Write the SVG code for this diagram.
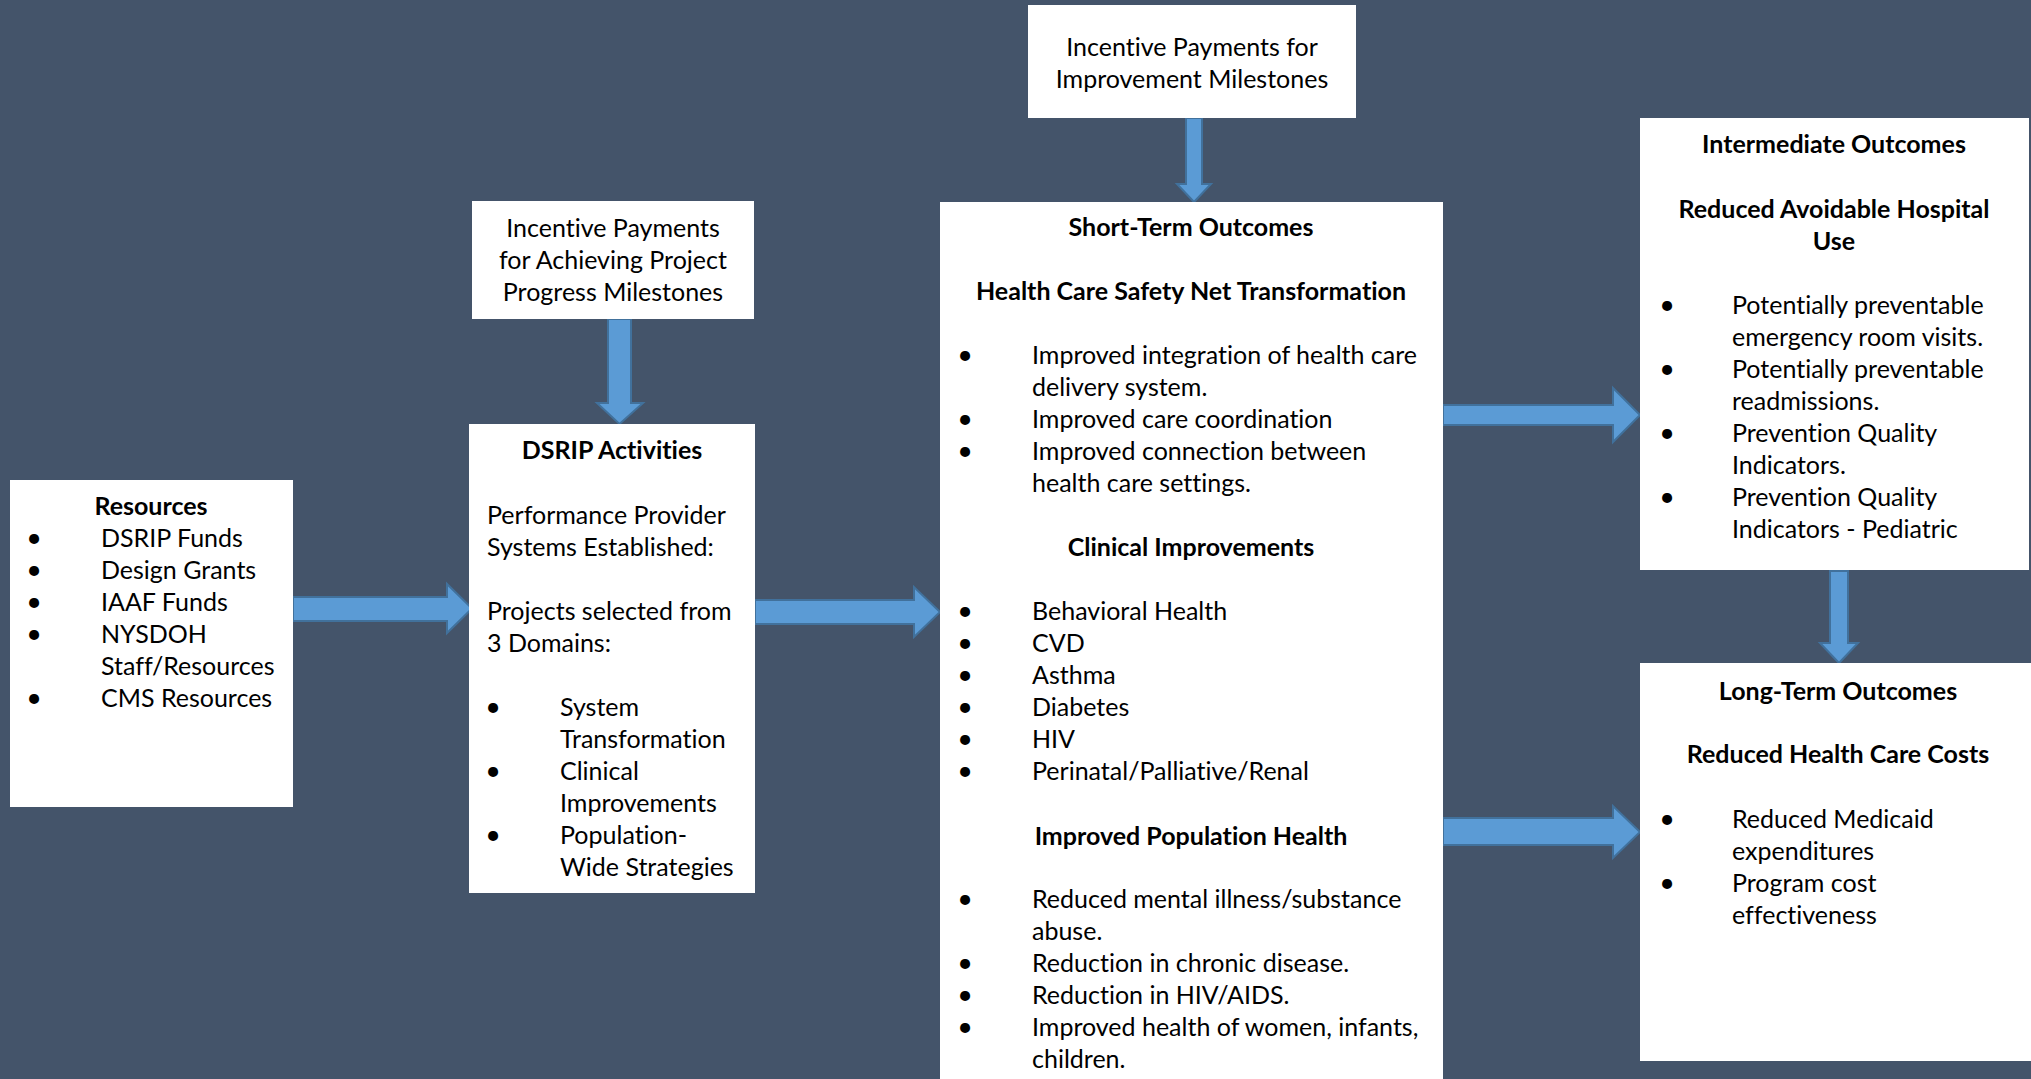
<svg xmlns="http://www.w3.org/2000/svg" width="2031" height="1079" viewBox="0 0 2031 1079">
  <style>
    .bg { fill: #44546A; }
    .box { fill: #FFFFFF; }
    .t { font-family: Lato, "Liberation Sans", sans-serif; font-size: 25px; fill: #000000; font-variant-ligatures: none; font-feature-settings: "liga" 0, "clig" 0; }
    .h { font-weight: bold; text-anchor: middle; }
    .c { text-anchor: middle; }
    .b { text-anchor: middle; font-size: 27px; }
    .arrow { fill: #5B9BD5; stroke: #41719C; stroke-width: 2; stroke-linejoin: miter; }
  </style>

  <rect class="bg" x="0" y="0" width="2031" height="1079"/>

  <!-- connectors: block arrows -->
  <g id="connectors">
    <path class="arrow" d="M293,597 H447 V584 L472,608.5 L447,633 V621 H293 Z"/>
    <path class="arrow" d="M755,600 H914 V587 L940,612 L914,637 V624 H755 Z"/>
    <path class="arrow" d="M1443,405 H1613 V388 L1640,415 L1613,442 V425 H1443 Z"/>
    <path class="arrow" d="M1443,818 H1613 V806 L1640,832 L1613,858 V845 H1443 Z"/>
    <path class="arrow" d="M608,319 V403 H597 L619.5,424 L643,403 H631 V319 Z"/>
    <path class="arrow" d="M1186,118 V184 H1177 L1194,202 L1211,184 H1202 V118 Z"/>
    <path class="arrow" d="M1830,571 V643 H1820 L1839,663 L1858,643 H1848 V571 Z"/>
  </g>

  <!-- resources -->
  <g id="resources">
    <rect class="box" x="10" y="480" width="283" height="327"/>
    <text class="t h" x="151" y="515">Resources</text>
    <text class="t b" x="34" y="547">•</text><text class="t" x="101" y="547">DSRIP Funds</text>
    <text class="t b" x="34" y="579">•</text><text class="t" x="101" y="579">Design Grants</text>
    <text class="t b" x="34" y="611">•</text><text class="t" x="101" y="611">IAAF Funds</text>
    <text class="t b" x="34" y="643">•</text><text class="t" x="101" y="643">NYSDOH</text>
    <text class="t" x="101" y="675">Staff/Resources</text>
    <text class="t b" x="34" y="707">•</text><text class="t" x="101" y="707">CMS Resources</text>
  </g>

  <!-- progress milestone payments -->
  <g id="progress-payments">
    <rect class="box" x="472" y="201" width="282" height="118"/>
    <text class="t c" x="613" y="237">Incentive Payments</text>
    <text class="t c" x="613" y="269">for Achieving Project</text>
    <text class="t c" x="613" y="301">Progress Milestones</text>
  </g>

  <!-- DSRIP activities -->
  <g id="dsrip-activities">
    <rect class="box" x="469" y="424" width="286" height="469"/>
    <text class="t h" x="612" y="459">DSRIP Activities</text>
    <text class="t" x="487" y="524">Performance Provider</text>
    <text class="t" x="487" y="556">Systems Established:</text>
    <text class="t" x="487" y="620">Projects selected from</text>
    <text class="t" x="487" y="652">3 Domains:</text>
    <text class="t b" x="493" y="716">•</text><text class="t" x="560" y="716">System</text>
    <text class="t" x="560" y="748">Transformation</text>
    <text class="t b" x="493" y="780">•</text><text class="t" x="560" y="780">Clinical</text>
    <text class="t" x="560" y="812">Improvements</text>
    <text class="t b" x="493" y="844">•</text><text class="t" x="560" y="844">Population-</text>
    <text class="t" x="560" y="876">Wide Strategies</text>
  </g>

  <!-- improvement milestone payments -->
  <g id="improvement-payments">
    <rect class="box" x="1028" y="5" width="328" height="113"/>
    <text class="t c" x="1192" y="56">Incentive Payments for</text>
    <text class="t c" x="1192" y="88">Improvement Milestones</text>
  </g>

  <!-- short-term outcomes -->
  <g id="short-term-outcomes">
    <rect class="box" x="940" y="202" width="503" height="890"/>
    <text class="t h" x="1191" y="236">Short-Term Outcomes</text>
    <text class="t h" x="1191" y="300">Health Care Safety Net Transformation</text>
    <text class="t b" x="965" y="364">•</text><text class="t" x="1032" y="364">Improved integration of health care</text>
    <text class="t" x="1032" y="396">delivery system.</text>
    <text class="t b" x="965" y="428">•</text><text class="t" x="1032" y="428">Improved care coordination</text>
    <text class="t b" x="965" y="460">•</text><text class="t" x="1032" y="460">Improved connection between</text>
    <text class="t" x="1032" y="492">health care settings.</text>
    <text class="t h" x="1191" y="556">Clinical Improvements</text>
    <text class="t b" x="965" y="620">•</text><text class="t" x="1032" y="620">Behavioral Health</text>
    <text class="t b" x="965" y="652">•</text><text class="t" x="1032" y="652">CVD</text>
    <text class="t b" x="965" y="684">•</text><text class="t" x="1032" y="684">Asthma</text>
    <text class="t b" x="965" y="716">•</text><text class="t" x="1032" y="716">Diabetes</text>
    <text class="t b" x="965" y="748">•</text><text class="t" x="1032" y="748">HIV</text>
    <text class="t b" x="965" y="780">•</text><text class="t" x="1032" y="780">Perinatal/Palliative/Renal</text>
    <text class="t h" x="1191" y="845">Improved Population Health</text>
    <text class="t b" x="965" y="908">•</text><text class="t" x="1032" y="908">Reduced mental illness/substance</text>
    <text class="t" x="1032" y="940">abuse.</text>
    <text class="t b" x="965" y="972">•</text><text class="t" x="1032" y="972">Reduction in chronic disease.</text>
    <text class="t b" x="965" y="1004">•</text><text class="t" x="1032" y="1004">Reduction in HIV/AIDS.</text>
    <text class="t b" x="965" y="1036">•</text><text class="t" x="1032" y="1036">Improved health of women, infants,</text>
    <text class="t" x="1032" y="1068">children.</text>
  </g>

  <!-- intermediate outcomes -->
  <g id="intermediate-outcomes">
    <rect class="box" x="1640" y="118" width="389" height="452"/>
    <text class="t h" x="1834" y="153">Intermediate Outcomes</text>
    <text class="t h" x="1834" y="218">Reduced Avoidable Hospital</text>
    <text class="t h" x="1834" y="250">Use</text>
    <text class="t b" x="1667" y="314">•</text><text class="t" x="1732" y="314">Potentially preventable</text>
    <text class="t" x="1732" y="346">emergency room visits.</text>
    <text class="t b" x="1667" y="378">•</text><text class="t" x="1732" y="378">Potentially preventable</text>
    <text class="t" x="1732" y="410">readmissions.</text>
    <text class="t b" x="1667" y="442">•</text><text class="t" x="1732" y="442">Prevention Quality</text>
    <text class="t" x="1732" y="474">Indicators.</text>
    <text class="t b" x="1667" y="506">•</text><text class="t" x="1732" y="506">Prevention Quality</text>
    <text class="t" x="1732" y="538">Indicators - Pediatric</text>
  </g>

  <!-- long-term outcomes -->
  <g id="long-term-outcomes">
    <rect class="box" x="1640" y="663" width="400" height="398"/>
    <text class="t h" x="1838" y="700">Long-Term Outcomes</text>
    <text class="t h" x="1838" y="763">Reduced Health Care Costs</text>
    <text class="t b" x="1667" y="828">•</text><text class="t" x="1732" y="828">Reduced Medicaid</text>
    <text class="t" x="1732" y="860">expenditures</text>
    <text class="t b" x="1667" y="892">•</text><text class="t" x="1732" y="892">Program cost</text>
    <text class="t" x="1732" y="924">effectiveness</text>
  </g>
</svg>
